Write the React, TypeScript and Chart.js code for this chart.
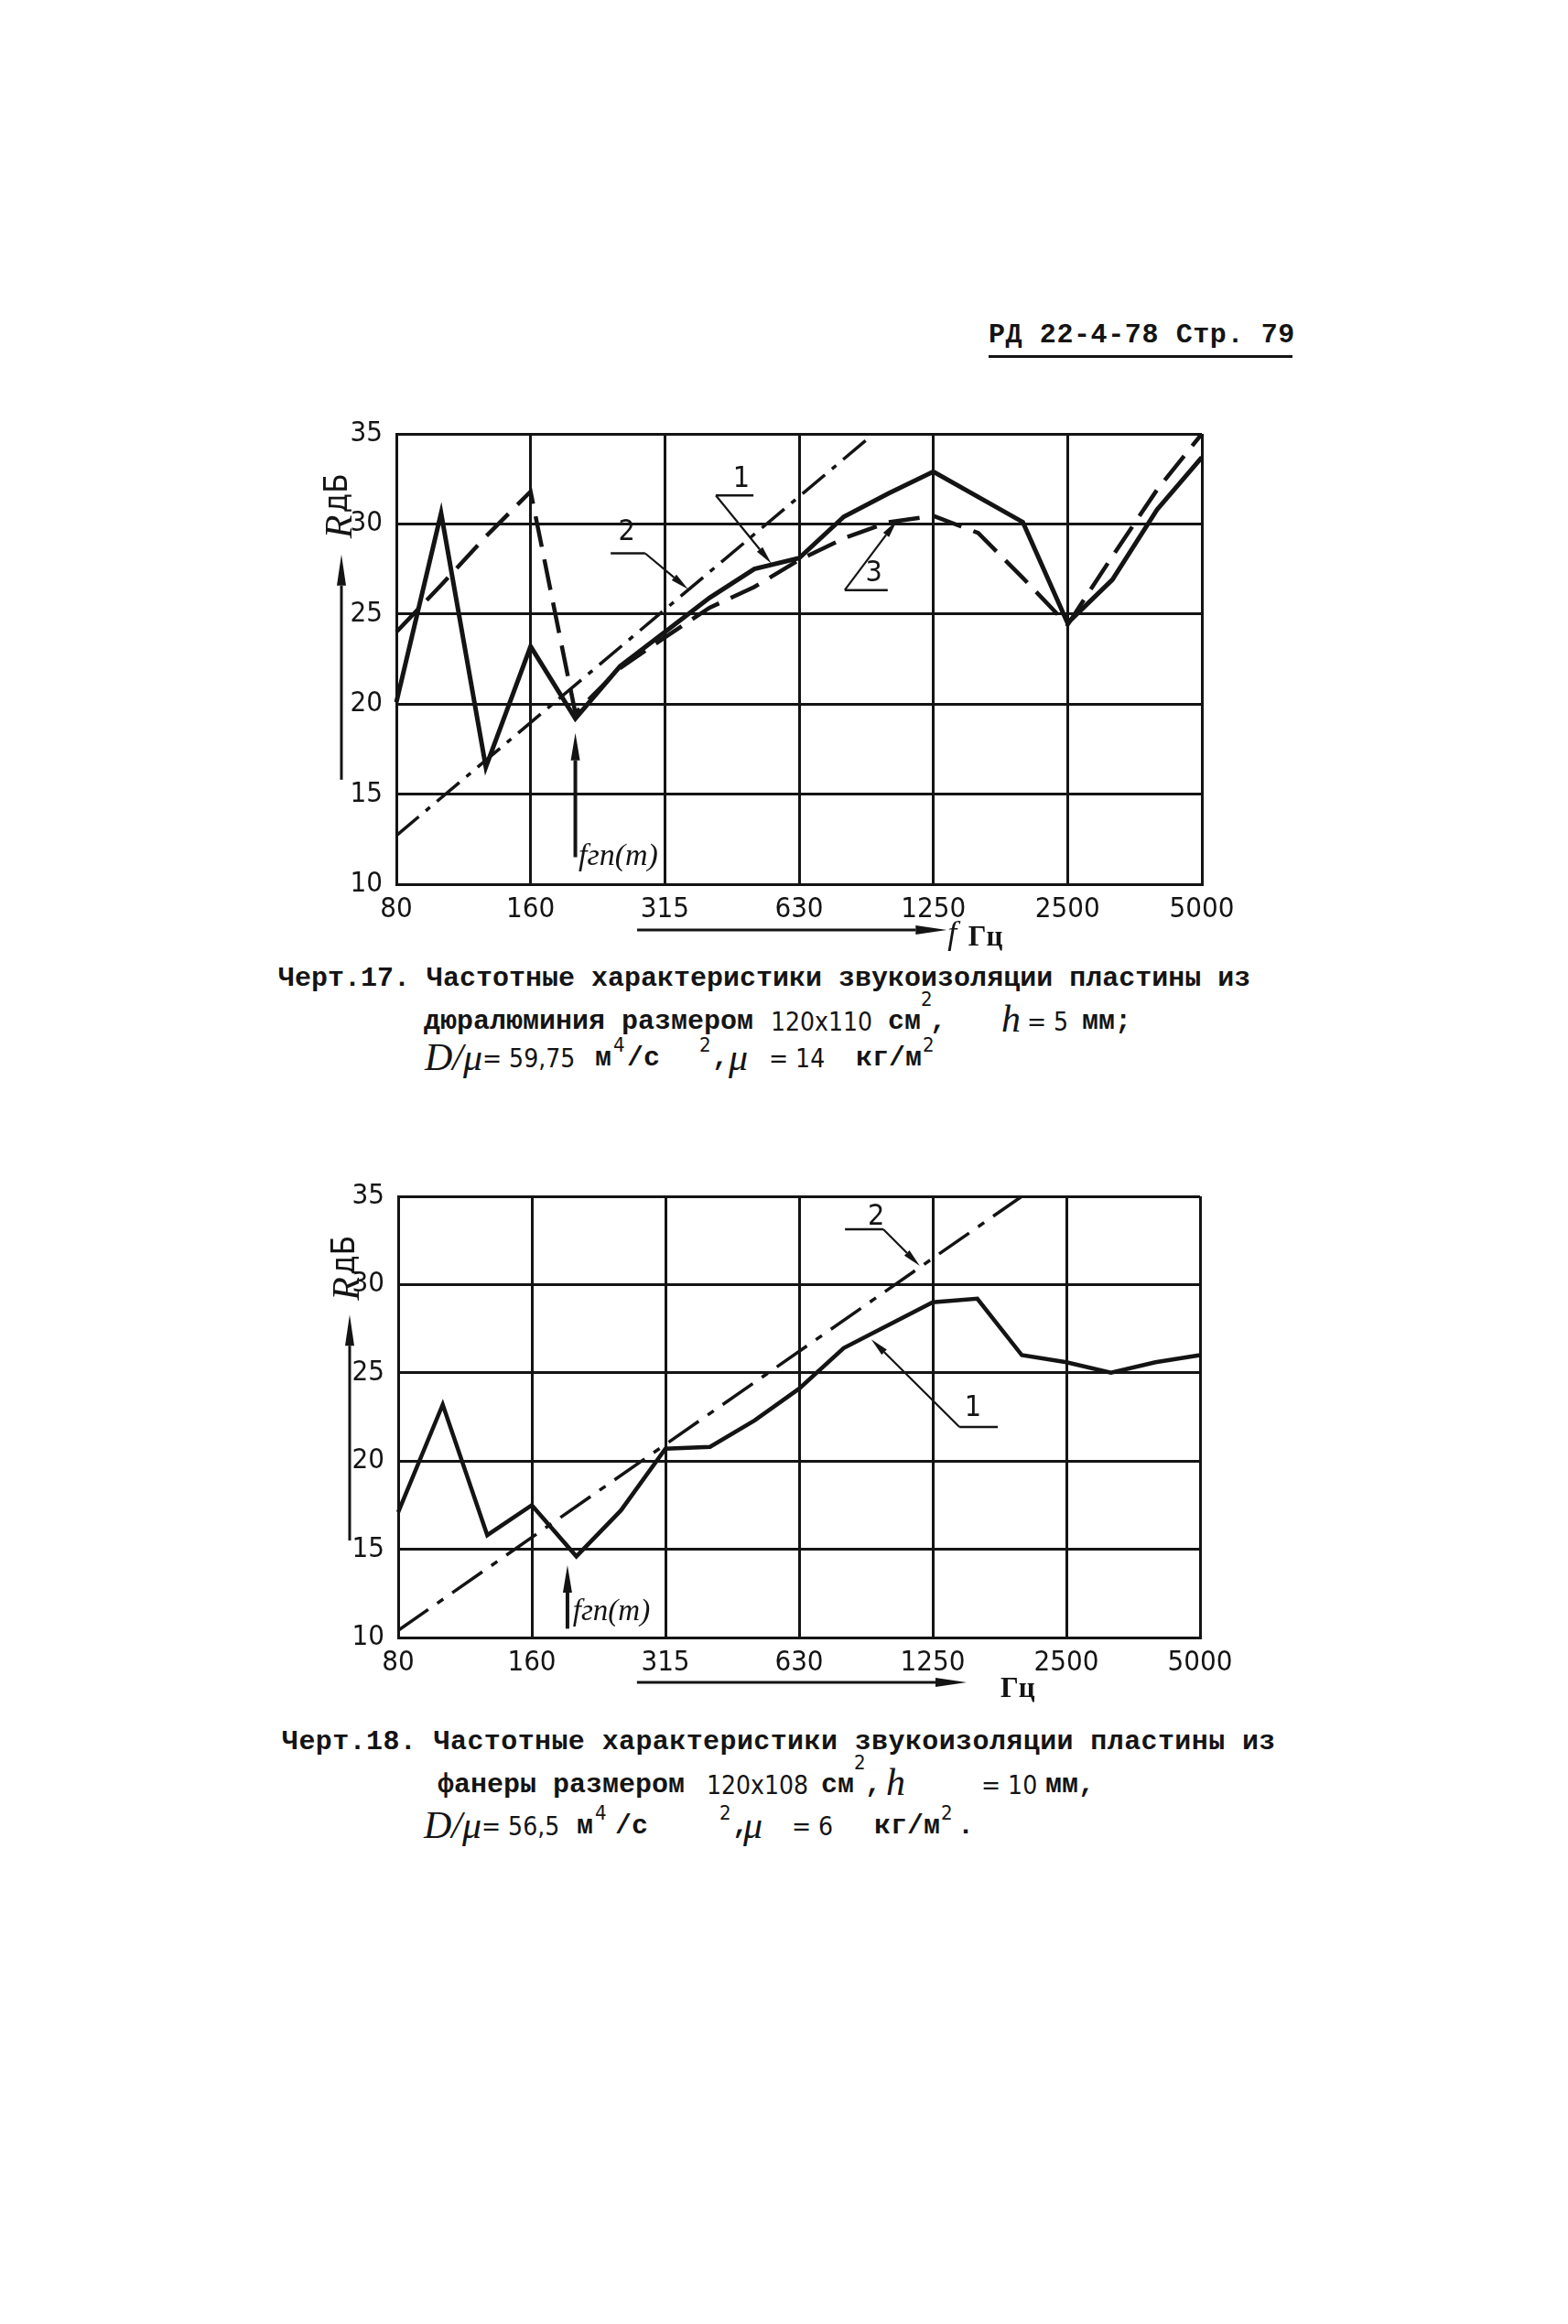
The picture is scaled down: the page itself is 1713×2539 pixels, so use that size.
import React, { useEffect, useRef } from 'react';
import { Chart, registerables } from 'chart.js';

Chart.register(...registerables);

// ---------- data ----------
const bands = ['80', '100', '125', '160', '200', '250', '315', '400', '500', '630', '800', '1000', '1250', '1600', '2000', '2500', '3150', '4000', '5000'];
const tickLabels = ['80', '160', '315', '630', '1250', '2500', '5000'];
const yMin = 10;
const yMax = 35;
const yStep = 5;

// Fig. 17 (duralumin plate)
const fig17Measured = [20.1, 30.6, 16.5, 23.2, 19.2, 22.1, 24.0, 25.9, 27.5, 28.1, 30.4, 31.7, 32.9, 31.5, 30.1, 24.5, 26.9, 30.8, 33.7];
const fig17MassLaw = [12.7, null, null, null, null, null, null, null, null, null, null, 35.7, null, null, null, null, null, null, null];
const fig17Calculated = [24.0, 26.6, 29.3, 31.8, 19.5, 22.0, 23.7, 25.35, 26.5, 28.0, 29.2, 30.1, 30.45, 29.5, 27.0, 24.4, 28.2, 31.9, 35.0];

// Fig. 18 (plywood plate)
const fig18Measured = [17.1, 23.2, 15.8, 17.5, 14.6, 17.2, 20.7, 20.8, 22.3, 24.1, 26.4, 27.7, 29.0, 29.2, 26.0, 25.6, 25.0, 25.6, 26.0];
const fig18MassLaw = [10.4, null, null, null, null, null, null, null, null, null, null, null, null, null, 35.0, null, null, null, null];

// ---------- styles ----------
const INK = '#141414';
const SANS = '"DejaVu Sans Condensed", "Liberation Sans Narrow", "DejaVu Sans", sans-serif';
const MONO = '"Liberation Mono", "DejaVu Sans Mono", monospace';
const SERIF = '"Liberation Serif", "DejaVu Serif", serif';

type Geo = { x: number; y: number; w: number; h: number; left: number; top: number; right: number; bottom: number };
type Lbl = { text: string; i: number; v: number; ul: [number, number, number]; leader: [number, number, number, number] };
type Deco = {
  yTitle: { dx: number; v: number };
  yArrow: { dx: number; v1: number; v2: number };
  xArrow: { i1: number; i2: number; dy: number };
  fLetter?: { i: number; dy: number };
  unit: { i: number; dy: number };
  fgr: { i: number; v1: number; v2: number; ti: number; tv: number; size: number };
  labels: Lbl[];
};

function arrow(ctx: CanvasRenderingContext2D, x1: number, y1: number, x2: number, y2: number, len: number, half: number, lw: number) {
  const a = Math.atan2(y2 - y1, x2 - x1);
  const bx = x2 - len * Math.cos(a);
  const by = y2 - len * Math.sin(a);
  ctx.lineWidth = lw;
  ctx.beginPath();
  ctx.moveTo(x1, y1);
  ctx.lineTo(bx, by);
  ctx.stroke();
  ctx.beginPath();
  ctx.moveTo(x2, y2);
  ctx.lineTo(bx + half * Math.sin(a), by - half * Math.cos(a));
  ctx.lineTo(bx - half * Math.sin(a), by + half * Math.cos(a));
  ctx.closePath();
  ctx.fill();
}

function decoPlugin(d: Deco) {
  return {
    id: 'deco',
    afterDraw(chart: any) {
      const { ctx, chartArea: a, scales } = chart;
      const X = (i: number) => scales.x.getPixelForValue(i);
      const Y = (v: number) => scales.y.getPixelForValue(v);
      ctx.save();
      ctx.strokeStyle = INK;
      ctx.fillStyle = INK;
      ctx.lineCap = 'butt';

      // y-axis title (rotated)
      ctx.save();
      ctx.translate(a.left + d.yTitle.dx, Y(d.yTitle.v));
      ctx.rotate(-Math.PI / 2);
      ctx.textBaseline = 'middle';
      ctx.textAlign = 'left';
      ctx.font = `italic 42px ${SERIF}`;
      ctx.fillText('R', 0, 0);
      const rw = ctx.measureText('R').width;
      ctx.font = `35px ${SANS}`;
      ctx.fillText('дБ', rw + 2, -3);
      ctx.restore();

      // y-axis arrow
      arrow(ctx, a.left + d.yArrow.dx, Y(d.yArrow.v1), a.left + d.yArrow.dx, Y(d.yArrow.v2), 34, 5, 3);

      // x-axis arrow and unit
      const xy = a.bottom + d.xArrow.dy;
      arrow(ctx, X(d.xArrow.i1), xy, X(d.xArrow.i2), xy, 34, 5, 3);
      ctx.textBaseline = 'middle';
      ctx.textAlign = 'left';
      if (d.fLetter) {
        ctx.font = `italic 36px ${SERIF}`;
        ctx.fillText('f', X(d.fLetter.i), a.bottom + d.fLetter.dy);
      }
      ctx.font = `bold 31px ${SERIF}`;
      ctx.fillText('Гц', X(d.unit.i), a.bottom + d.unit.dy);

      // boundary frequency marker
      arrow(ctx, X(d.fgr.i), Y(d.fgr.v1), X(d.fgr.i), Y(d.fgr.v2), 30, 5, 4);
      ctx.textBaseline = 'alphabetic';
      ctx.font = `italic ${d.fgr.size}px ${SERIF}`;
      ctx.fillText('fгп(m)', X(d.fgr.ti), Y(d.fgr.tv));

      // curve labels with leaders
      for (const l of d.labels) {
        ctx.font = `32px ${SANS}`;
        ctx.textAlign = 'center';
        ctx.textBaseline = 'middle';
        ctx.fillText(l.text, X(l.i), Y(l.v));
        ctx.lineWidth = 2.5;
        ctx.beginPath();
        ctx.moveTo(X(l.ul[0]), Y(l.ul[2]));
        ctx.lineTo(X(l.ul[1]), Y(l.ul[2]));
        ctx.stroke();
        arrow(ctx, X(l.leader[0]), Y(l.leader[1]), X(l.leader[2]), Y(l.leader[3]), 20, 4, 2.2);
      }
      ctx.restore();
    },
  };
}

function makeOptions(g: Geo): any {
  const gridColor = (c: any) => (tickLabels.includes(bands[c.index]) ? INK : 'rgba(0,0,0,0)');
  return {
    animation: false,
    responsive: false,
    maintainAspectRatio: false,
    events: [],
    layout: { padding: { left: 0, top: g.top, right: g.w - g.right, bottom: 0 } },
    plugins: { legend: { display: false }, tooltip: { enabled: false }, title: { display: false } },
    elements: { point: { radius: 0 }, line: { tension: 0, borderCapStyle: 'butt', borderJoinStyle: 'miter' } },
    scales: {
      x: {
        type: 'category',
        offset: false,
        grid: { color: gridColor, lineWidth: 3, drawTicks: false },
        border: { display: true, color: INK, width: 3 },
        ticks: {
          autoSkip: false,
          maxRotation: 0,
          minRotation: 0,
          padding: 9,
          color: INK,
          font: { family: SANS, size: 31 },
          callback: (v: any) => (tickLabels.includes(bands[v]) ? bands[v] : ''),
        },
        afterFit: (s: any) => {
          s.height = g.h - g.bottom;
        },
      },
      y: {
        min: yMin,
        max: yMax,
        grid: { color: INK, lineWidth: 3, drawTicks: false },
        border: { display: true, color: INK, width: 3 },
        ticks: { stepSize: yStep, padding: 15, color: INK, font: { family: SANS, size: 31 } },
        afterFit: (s: any) => {
          s.width = g.left;
        },
      },
    },
  };
}

function ChartCanvas({ geo, datasets, deco }: { geo: Geo; datasets: any[]; deco: Deco }) {
  const ref = useRef<HTMLCanvasElement>(null);
  useEffect(() => {
    const chart = new Chart(ref.current as HTMLCanvasElement, {
      type: 'line',
      data: { labels: bands, datasets },
      options: makeOptions(geo),
      plugins: [decoPlugin(deco)],
    } as any);
    return () => chart.destroy();
  }, []);
  return (
    <canvas
      ref={ref}
      width={geo.w}
      height={geo.h}
      style={{ position: 'absolute', left: geo.x, top: geo.y, width: geo.w, height: geo.h }}
    />
  );
}

// ---------- text helper ----------
function T(p: { x: number; y: number; t: string; s?: number; f?: string; w?: number; i?: boolean; ls?: number }) {
  return (
    <span
      style={{
        position: 'absolute',
        left: p.x,
        top: p.y,
        fontSize: p.s ?? 30,
        fontFamily: p.f ?? MONO,
        fontWeight: p.w ?? 700,
        fontStyle: p.i ? 'italic' : 'normal',
        letterSpacing: p.ls ?? 0,
        lineHeight: 1,
        whiteSpace: 'pre',
        color: INK,
      }}
    >
      {p.t}
    </span>
  );
}

const geo17: Geo = { x: 300, y: 400, w: 1100, h: 650, left: 133, top: 74, right: 1013, bottom: 566 };
const geo18: Geo = { x: 300, y: 1230, w: 1100, h: 650, left: 135, top: 77, right: 1011, bottom: 559 };

const deco17: Deco = {
  yTitle: { dx: -60, v: 29.2 },
  yArrow: { dx: -60, v1: 15.8, v2: 28.3 },
  xArrow: { i1: 5.38, i2: 12.3, dy: 50 },
  fLetter: { i: 12.32, dy: 56 },
  unit: { i: 12.78, dy: 59 },
  fgr: { i: 4, v1: 11.5, v2: 18.4, ti: 4.07, tv: 11.07, size: 34 },
  labels: [
    { text: '1', i: 7.71, v: 32.45, ul: [7.14, 7.98, 31.58], leader: [7.14, 31.58, 8.38, 27.8] },
    { text: '2', i: 5.15, v: 29.54, ul: [4.79, 5.56, 28.37], leader: [5.56, 28.37, 6.52, 26.38] },
    { text: '3', i: 10.67, v: 27.24, ul: [10.02, 10.98, 26.33], leader: [10.02, 26.33, 11.19, 30.2] },
  ],
};

const deco18: Deco = {
  yTitle: { dx: -54, v: 29.1 },
  yArrow: { dx: -53, v1: 15.5, v2: 28.3 },
  xArrow: { i1: 5.36, i2: 12.76, dy: 49 },
  unit: { i: 13.52, dy: 57 },
  fgr: { i: 3.8, v1: 10.5, v2: 14.1, ti: 3.92, tv: 11.0, size: 33 },
  labels: [
    { text: '2', i: 10.73, v: 33.8, ul: [10.03, 10.89, 33.13], leader: [10.89, 33.13, 11.71, 31.06] },
    { text: '1', i: 12.9, v: 23.0, ul: [12.6, 13.46, 21.93], leader: [12.6, 21.93, 10.62, 26.9] },
  ],
};

const ds17 = [
  { data: fig17Calculated, borderColor: INK, borderWidth: 4.5, borderDash: [34, 14], pointRadius: 0, fill: false },
  { data: fig17MassLaw, borderColor: INK, borderWidth: 3.5, borderDash: [32, 10, 6, 10], pointRadius: 0, spanGaps: true, fill: false },
  { data: fig17Measured, borderColor: INK, borderWidth: 5, pointRadius: 0, fill: false },
];

const ds18 = [
  { data: fig18MassLaw, borderColor: INK, borderWidth: 3.5, borderDash: [40, 12, 8, 12], pointRadius: 0, spanGaps: true, fill: false },
  { data: fig18Measured, borderColor: INK, borderWidth: 4.5, pointRadius: 0, fill: false },
];

export default function App() {
  const N = { f: SANS, w: 400, s: 28 };
  const SUP = { f: SANS, w: 400, s: 22 };
  const HW = { f: SERIF, w: 400, s: 42, i: true };
  return (
    <div style={{ position: 'absolute', left: 0, top: 0, width: 1713, height: 2539, background: '#fff', overflow: 'hidden' }}>
      {/* page header */}
      <T x={1080} y={351} t="РД 22-4-78 Стр. 79" ls={0.6} />
      <div style={{ position: 'absolute', left: 1080, top: 388, width: 332, height: 3, background: INK }} />

      <ChartCanvas geo={geo17} datasets={ds17} deco={deco17} />
      <ChartCanvas geo={geo18} datasets={ds18} deco={deco18} />

      {/* caption 17 */}
      <T x={304} y={1054} t="Черт.17. Частотные характеристики звукоизоляции пластины из" />
      <T x={463} y={1101} t="дюралюминия размером" />
      <T x={842} y={1103} t="120x110" {...N} />
      <T x={970} y={1101} t="см" />
      <T x={1006} y={1081} t="2" {...SUP} />
      <T x={1016} y={1101} t="," />
      <T x={1094} y={1092} t="h" {...HW} />
      <T x={1122} y={1103} t="= 5" {...N} />
      <T x={1182} y={1101} t="мм;" />
      <T x={464} y={1134} t="D/μ" {...HW} />
      <T x={527} y={1143} t="= 59,75" {...N} />
      <T x={650} y={1141} t="м" />
      <T x={670} y={1131} t="4" {...SUP} />
      <T x={685} y={1141} t="/с" />
      <T x={764} y={1131} t="2" {...SUP} />
      <T x={778} y={1141} t="," />
      <T x={796} y={1134} t="μ" {...HW} />
      <T x={840} y={1143} t="= 14" {...N} />
      <T x={935} y={1141} t="кг/м" />
      <T x={1008} y={1131} t="2" {...SUP} />

      {/* caption 18 */}
      <T x={308} y={1888} t="Черт.18. Частотные характеристики звукоизоляции пластины из" ls={0.4} />
      <T x={478} y={1935} t="фанеры размером" />
      <T x={772} y={1937} t="120x108" {...N} />
      <T x={897} y={1935} t="см" />
      <T x={933} y={1915} t="2" {...SUP} />
      <T x={945} y={1935} t="," />
      <T x={968} y={1926} t="h" {...HW} />
      <T x={1072} y={1937} t="= 10" {...N} />
      <T x={1142} y={1935} t="мм," />
      <T x={463} y={1973} t="D/μ" {...HW} />
      <T x={526} y={1982} t="= 56,5" {...N} />
      <T x={630} y={1980} t="м" />
      <T x={650} y={1970} t="4" {...SUP} />
      <T x={672} y={1980} t="/с" />
      <T x={786} y={1970} t="2" {...SUP} />
      <T x={800} y={1980} t="," />
      <T x={812} y={1973} t="μ" {...HW} />
      <T x={865} y={1982} t="= 6" {...N} />
      <T x={955} y={1980} t="кг/м" />
      <T x={1028} y={1970} t="2" {...SUP} />
      <T x={1046} y={1980} t="." />
    </div>
  );
}
